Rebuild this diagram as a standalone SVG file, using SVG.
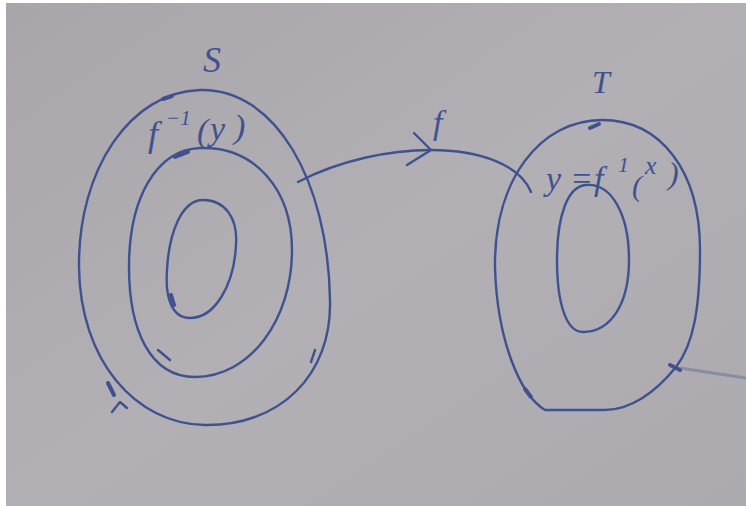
<svg xmlns="http://www.w3.org/2000/svg" width="746" height="506" viewBox="0 0 746 506">
<defs>
<style>
.ink{fill:none;stroke:#3f5190;stroke-width:2.4;stroke-linecap:round;stroke-linejoin:round}
.tick{fill:none;stroke:#3f5190;stroke-width:4;stroke-linecap:round}
.lbl{font-family:"Liberation Serif","DejaVu Serif",serif;font-style:italic;fill:#3f5190}
</style>
<linearGradient id="bg" x1="0" y1="0" x2="1" y2="1">
<stop offset="0" stop-color="#a8a5ab"/>
<stop offset="0.5" stop-color="#b2b0b5"/>
<stop offset="1" stop-color="#acaaaf"/>
</linearGradient>
</defs>
<rect width="746" height="506" fill="#ffffff"/>
<rect x="6" y="3" width="740" height="503" fill="url(#bg)"/>
<g id="S">
<path class="ink" d="M200,90 C275,88 328,180 330,300 C332,375 280,426 205,425 C135,424 80,360 79,267 C78,170 130,92 200,90 Z"/>
<path class="ink" d="M200,148 C255,146 292,190 292,250 C292,320 250,377 195,377 C150,377 129,330 129,267 C129,200 155,150 200,148 Z"/>
<path class="ink" d="M203,200 C225,200 238,218 236,245 C234,285 215,318 190,318 C172,318 165,298 167,270 C169,232 182,200 203,200 Z"/>
<path class="tick" d="M163,99 L172,96"/>
<path class="tick" d="M175,157 L188,152"/>
<path class="tick" d="M171,295 L174,305"/>
<path class="ink" d="M158,350 L170,360"/>
<path class="tick" d="M108,383 L114,395"/>
<path class="ink" d="M112,412 L120,402 L127,408"/>
<path class="ink" d="M315,350 L311,362"/>
<text class="lbl" x="203" y="72" font-size="36">S</text>
<text class="lbl" y="146" font-size="36"><tspan x="148">f</tspan><tspan x="166" y="125" font-size="21">−1</tspan><tspan x="197" y="142" font-size="34">(</tspan><tspan x="210" y="140" font-size="34">y</tspan><tspan x="234" y="138" font-size="34">)</tspan></text>
</g>
<g id="T">
<path class="ink" d="M602,120 C660,120 700,170 700,250 C700,310 693,345 676,367 C655,393 630,410 605,410 L545,410 C520,395 497,340 495,267 C494,180 540,120 602,120 Z"/>
<path class="ink" d="M586,185 C612,183 629,215 629,260 C629,305 610,332 583,332 C565,332 557,300 557,260 C557,215 568,186 586,185 Z"/>
<path class="tick" d="M590,128 L599,124"/>
<path class="tick" d="M525,389 L531,397"/>
<path class="tick" d="M670,365 L680,370"/>
<path d="M680,368 L746,378" fill="none" stroke="#5a6796" stroke-width="3" stroke-opacity="0.45"/>
<text class="lbl" x="592" y="93" font-size="32">T</text>
<text class="lbl" y="190" font-size="34"><tspan x="546">y</tspan><tspan x="570">=</tspan><tspan x="594">f</tspan><tspan x="618" y="172" font-size="22">1</tspan><tspan x="632" y="196" font-size="30">(</tspan><tspan x="645" y="174" font-size="26">x</tspan><tspan x="668" y="184" font-size="32">)</tspan></text>
</g>
<g id="connectors">
<path class="ink" d="M298,182 C340,160 390,150 431,150 C480,150 520,165 531,192"/>
<path class="ink" d="M414,133 L431,150 L407,165"/>
<text class="lbl" x="433" y="134" font-size="34">f</text>
</g>
</svg>
